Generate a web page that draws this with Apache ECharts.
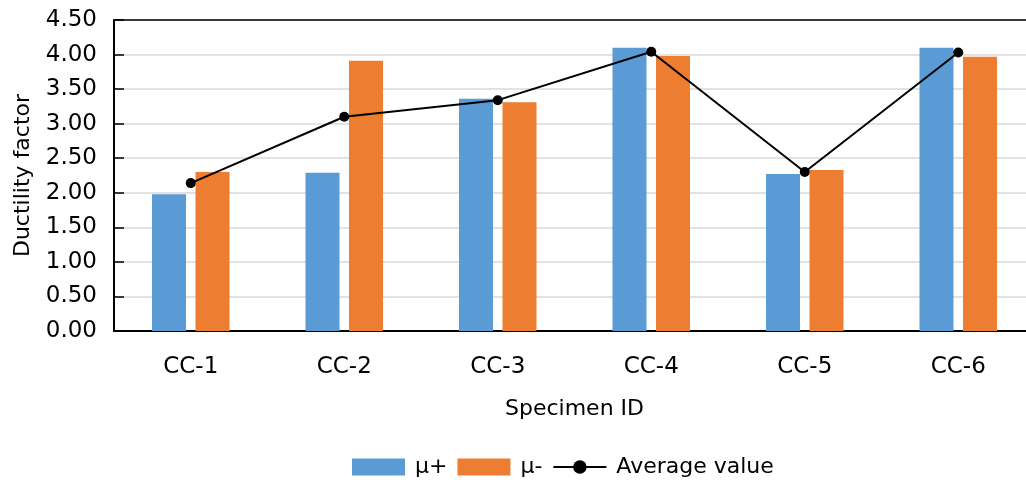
<!DOCTYPE html>
<html>
<head>
<meta charset="utf-8">
<script src="https://cdn.jsdelivr.net/npm/echarts@6/dist/echarts.min.js"></script>
<style>html,body{margin:0;padding:0;background:#fff}#c{width:1026px;height:480px}</style>
</head>
<body>
<div id="c"></div>
<script>
const categories = ['CC-1', 'CC-2', 'CC-3', 'CC-4', 'CC-5', 'CC-6'];
const muPlus = [1.98, 2.29, 3.36, 4.10, 2.27, 4.10];
const muMinus = [2.30, 3.91, 3.31, 3.98, 2.33, 3.97];
const average = [2.14, 3.10, 3.34, 4.04, 2.30, 4.03];
const seriesNames = ['μ+', 'μ-', 'Average value'];
const yTicks = { min: 0, max: 4.5, interval: 0.5 };

const FONT = 'DejaVu Sans';
const chart = echarts.init(document.getElementById('c'), null, { renderer: 'canvas' });
chart.setOption({
  animation: false,
  textStyle: { fontFamily: FONT },
  grid: { left: 114, top: 20, height: 311, width: 921, show: false,
          containLabel: false, outerBoundsMode: 'none' },
  legend: {
    bottom: -3, left: 347,
    itemWidth: 53, itemHeight: 17, itemGap: 10,
    textStyle: { fontFamily: FONT, fontSize: 22, color: '#000', padding: [0, 0, 0, 5] },
    data: [
      { name: seriesNames[0], icon: 'rect' },
      { name: seriesNames[1], icon: 'rect' },
      { name: seriesNames[2] }
    ]
  },
  xAxis: [{
    type: 'category', data: categories,
    name: 'Specimen ID', nameLocation: 'middle', nameGap: 67,
    nameTextStyle: { fontFamily: FONT, fontSize: 22, color: '#000' },
    axisLine: { lineStyle: { color: '#000', width: 2 } },
    axisTick: { show: false },
    axisLabel: { fontFamily: FONT, fontSize: 23, color: '#000', margin: 25 }
  }, {
    type: 'category', data: categories, position: 'top',
    axisLine: { show: true, lineStyle: { color: '#000', width: 1.5 } },
    axisTick: { show: false }, axisLabel: { show: false }, splitLine: { show: false }
  }],
  yAxis: {
    type: 'value', min: yTicks.min, max: yTicks.max, interval: yTicks.interval,
    name: 'Ductility factor', nameLocation: 'middle', nameGap: 80,
    nameTextStyle: { fontFamily: FONT, fontSize: 22, color: '#000' },
    axisLine: { show: true, lineStyle: { color: '#000', width: 2 } },
    axisTick: { show: true, inside: true, length: 10, lineStyle: { color: '#000', width: 1.5 } },
    axisLabel: { fontFamily: FONT, fontSize: 23, color: '#000', margin: 17, formatter: v => v.toFixed(2) },
    splitLine: { lineStyle: { color: '#d9d9d9', width: 1.5 } }
  },
  series: [
    { name: seriesNames[0], type: 'bar', data: muPlus, barWidth: 34, barGap: '28%', itemStyle: { color: '#5B9BD5' } },
    { name: seriesNames[1], type: 'bar', data: muMinus, barWidth: 34, itemStyle: { color: '#ED7D31' } },
    { name: seriesNames[2], type: 'line', data: average, symbol: 'circle', symbolSize: 10, z: 5,
      itemStyle: { color: '#000' }, lineStyle: { color: '#000', width: 2 } }
  ]
});
</script>
</body>
</html>
